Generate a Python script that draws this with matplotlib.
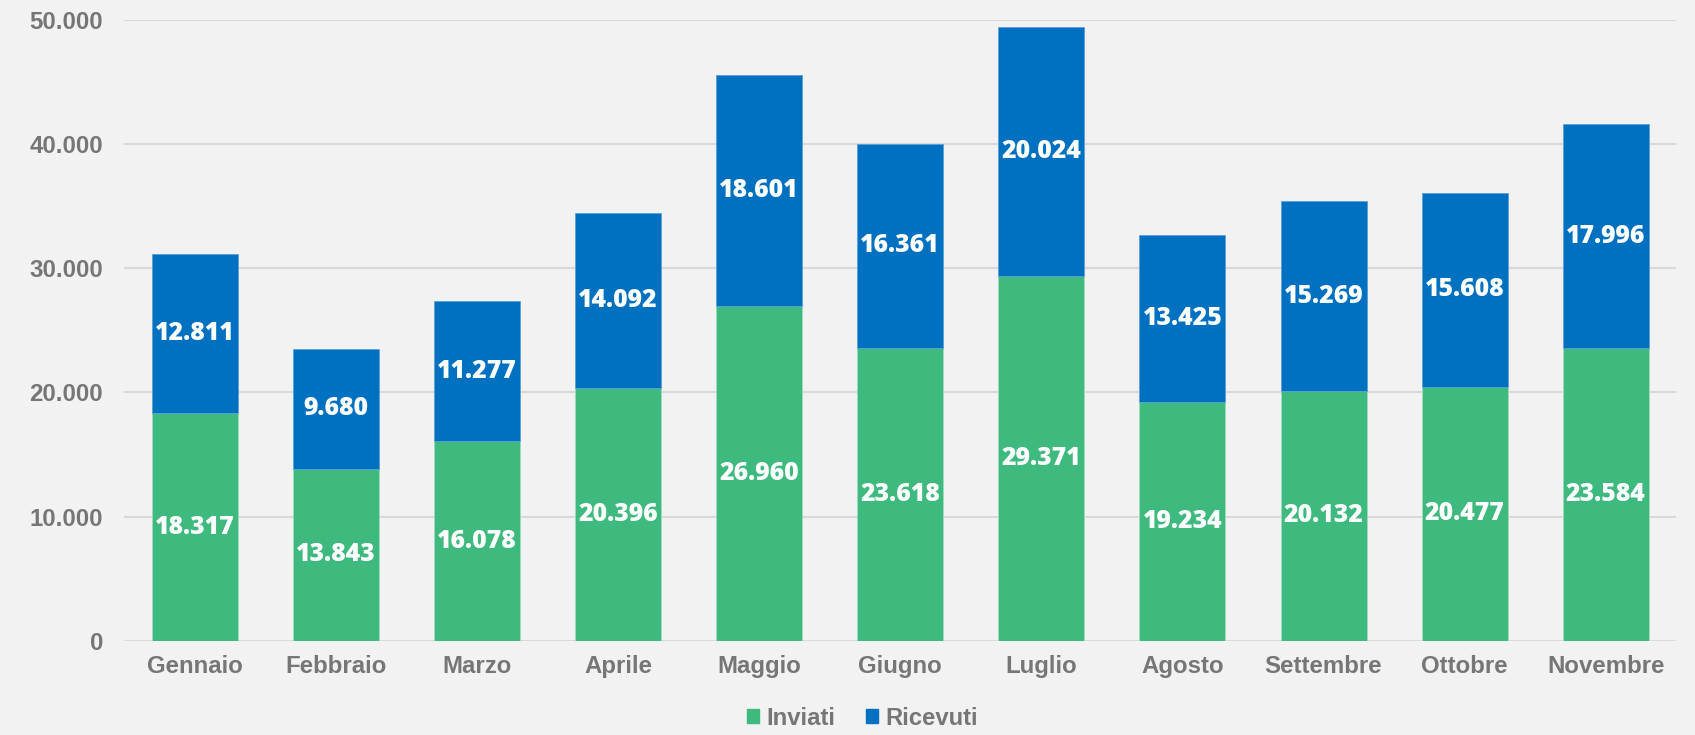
import matplotlib.pyplot as plt
from matplotlib.ticker import FuncFormatter
from matplotlib.patches import Patch

mesi = ['Gennaio', 'Febbraio', 'Marzo', 'Aprile', 'Maggio', 'Giugno',
        'Luglio', 'Agosto', 'Settembre', 'Ottobre', 'Novembre']
inviati = [18317, 13843, 16078, 20396, 26960, 23618, 29371, 19234, 20132, 20477, 23584]
ricevuti = [12811, 9680, 11277, 14092, 18601, 16361, 20024, 13425, 15269, 15608, 17996]

verde = '#3EBA7E'
blu = '#0070C0'
grigio = '#767676'
sfondo = '#F2F2F2'


def fmt(v):
    # separatore delle migliaia all'italiana
    return f'{int(v):,}'.replace(',', '.')


fig = plt.figure(figsize=(16.95, 7.35), dpi=100, facecolor=sfondo)
ax = fig.add_axes([0.0732, 0.128, 0.9158, 0.845], facecolor=sfondo)

x = range(len(mesi))
w = 0.61
b1 = ax.bar(x, inviati, width=w, color=verde, edgecolor='#9fdcbf', linewidth=0.6, zorder=3)
b2 = ax.bar(x, ricevuti, width=w, bottom=inviati, color=blu, edgecolor='#5aa0d8', linewidth=0.6, zorder=3)

for bars in (b1, b2):
    for r in bars:
        h = r.get_height()
        ax.text(r.get_x() + r.get_width() / 2, r.get_y() + h / 2, fmt(h),
                ha='center', va='center', color='white', fontsize=17.8,
                fontweight='heavy', family='Open Sans', zorder=4)

ax.set_xlim(-0.5, len(mesi) - 0.5)
ax.set_ylim(0, 50000)
ax.set_yticks(range(0, 50001, 10000))
ax.yaxis.set_major_formatter(FuncFormatter(lambda v, p: fmt(v)))
ax.set_xticks(list(x))
ax.set_xticklabels(mesi)

ax.grid(axis='y', color='#D9D9D9', linewidth=1.5, zorder=0)
for s in ax.spines.values():
    s.set_visible(False)
ax.tick_params(length=0, labelsize=17.3, labelcolor=grigio, pad=10)
ax.tick_params(axis='y', pad=15)
for lab in ax.get_xticklabels() + ax.get_yticklabels():
    lab.set_fontweight('bold')
    lab.set_family('Liberation Sans')

handles = [Patch(color=verde, label='Inviati'), Patch(color=blu, label='Ricevuti')]
leg = fig.legend(handles=handles, loc='center', bbox_to_anchor=(0.509, 0.023), ncol=2,
                 frameon=False, handlelength=0.5, handleheight=0.5, handletextpad=0.3,
                 columnspacing=1.3, prop={'family': 'Liberation Sans', 'weight': 'bold', 'size': 17.2})
for t in leg.get_texts():
    t.set_color(grigio)

fig.savefig('out.png', dpi=100, facecolor=sfondo)
